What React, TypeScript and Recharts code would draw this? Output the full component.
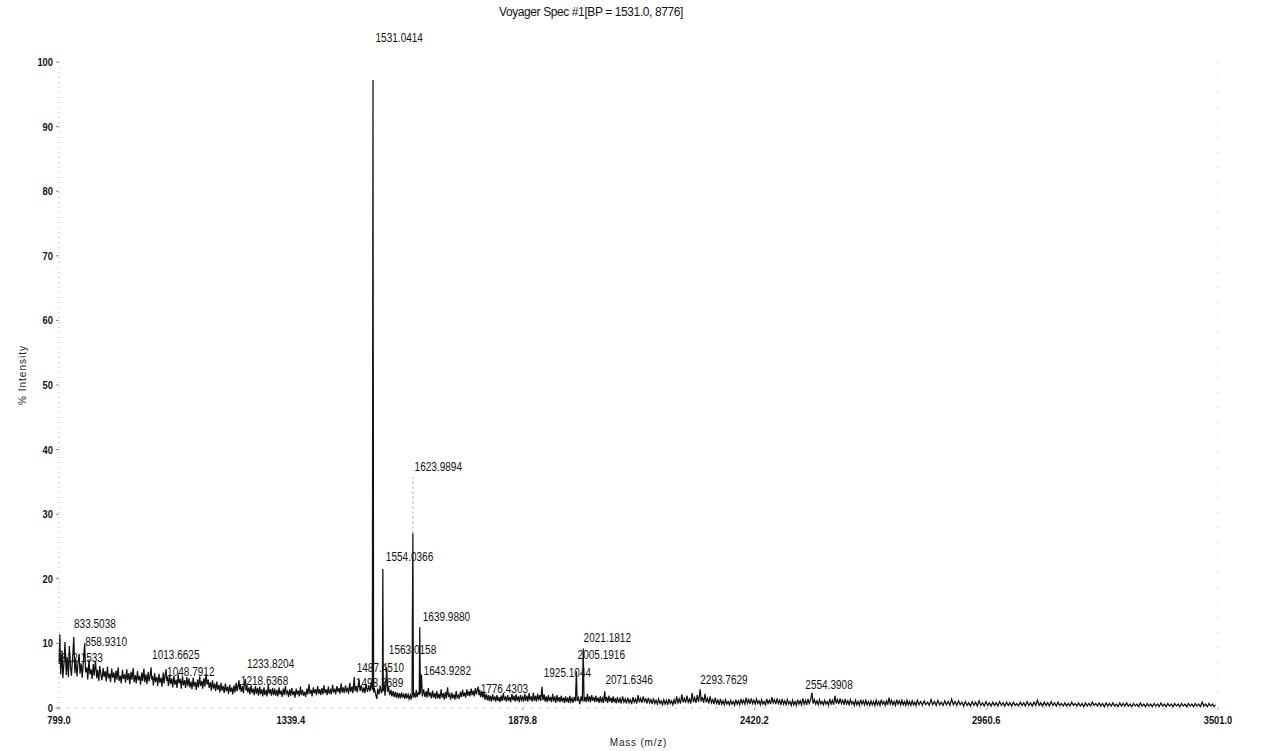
import React from 'react';
import { ComposedChart, Line, XAxis, YAxis, ReferenceDot } from 'recharts';

type Pt = [number, number];

const FONT = "'Liberation Sans', Arial, sans-serif";

const chartTitle = 'Voyager Spec #1[BP = 1531.0, 8776]';
const xAxisTitle = 'Mass (m/z)';
const yAxisTitle = '% Intensity';
const xTicks = [799.0, 1339.4, 1879.8, 2420.2, 2960.6, 3501.0];
const yTicks = [0, 10, 20, 30, 40, 50, 60, 70, 80, 90, 100];
const rightTicks = [0, 100];
const rightTickLabels = ['0', '8776.0'];

// labelled peaks: [m/z, % intensity]
const peakPoints: Pt[] = [
  [801.0, 11.4], [833.5, 11.0], [858.9, 10.0], [1013.7, 6.3], [1048.8, 6.0],
  [1218.6, 4.3], [1233.8, 4.5], [1487.5, 4.8], [1498.4, 4.4], [1531.0, 97.2],
  [1554.0, 21.5], [1563.0, 6.3], [1624.0, 27.0], [1640.0, 12.5], [1644.0, 5.2],
  [1776.4, 3.3], [1925.1, 3.3], [2005.2, 5.7], [2021.2, 9.2], [2071.6, 2.6],
  [2293.8, 2.9], [2554.4, 2.4],
];

// faint upper trace of the 1623.9894 peak
const ghostPeak: Pt[] = [[1624.0, 27.0], [1624.0, 35.7]];

const noiseA: Pt[] = [
  [799, 6.8], [803, 5.2], [806, 8.9], [808, 4.6], [811, 7.3], [813, 10.2], [816, 5.1], [818, 7.9],
  [821, 4.8], [823, 9.6], [826, 6.2], [828, 5.0], [831, 8.1], [836, 5.4], [838, 7.6], [841, 4.9],
  [843, 6.8], [846, 8.4], [848, 5.3], [851, 6.9], [853, 4.7], [856, 7.2], [861, 5.5], [864, 6.3],
  [866, 4.4], [869, 7.5], [871, 5.2], [874, 6.0], [876, 4.5], [879, 6.8], [881, 5.0], [884, 7.3],
  [887, 4.6], [889, 5.9], [892, 4.2], [894, 6.5], [897, 5.1], [899, 4.3], [902, 6.2], [904, 4.8],
  [907, 5.7], [909, 4.1], [912, 6.4], [914, 4.6], [917, 5.3], [919, 4.0], [922, 6.1], [924, 4.7],
  [927, 5.5], [929, 3.9], [932, 5.8], [934, 4.4], [937, 6.3], [939, 4.2], [942, 5.0], [944, 3.8],
  [947, 5.9], [949, 4.5], [952, 5.2], [954, 3.9], [957, 6.0], [959, 4.3], [962, 5.4], [964, 3.7],
  [967, 5.6], [969, 4.4], [972, 6.2], [974, 4.0], [977, 5.1], [979, 3.8], [982, 5.7], [984, 4.3],
  [987, 5.0], [989, 3.6], [992, 5.5], [994, 4.2], [997, 6.1], [999, 4.0],
];

const noiseB: Pt[] = [
  [1002, 5.2], [1004, 3.7], [1007, 5.6], [1009, 4.1], [1012, 5.3], [1015, 4.4], [1017, 5.0], [1019, 3.5],
  [1022, 5.4], [1024, 4.0], [1027, 4.8], [1029, 3.4], [1032, 5.3], [1034, 3.9], [1037, 4.7], [1039, 3.3],
  [1042, 5.5], [1044, 3.8], [1046, 5.0], [1050, 4.2], [1052, 4.9], [1054, 3.4], [1057, 5.1], [1059, 3.7],
  [1062, 4.6], [1064, 3.2], [1067, 5.0], [1069, 3.6], [1072, 4.4], [1074, 3.1], [1077, 5.2], [1079, 3.8],
  [1082, 4.5], [1084, 3.0], [1087, 4.9], [1089, 3.5], [1092, 4.3], [1094, 3.1], [1097, 4.8], [1099, 3.4],
  [1102, 4.6], [1104, 3.2], [1107, 4.1], [1109, 2.9], [1112, 4.7], [1114, 3.3], [1117, 4.0], [1119, 2.8],
  [1122, 4.4], [1124, 3.2], [1127, 4.9], [1129, 3.4], [1132, 4.2], [1134, 3.0], [1137, 4.6], [1139, 3.3],
  [1142, 5.3], [1144, 3.6], [1147, 4.4], [1149, 3.1], [1152, 4.0], [1154, 2.7], [1157, 4.3], [1159, 3.0],
  [1162, 3.8], [1164, 2.6], [1167, 4.1], [1169, 2.8], [1172, 3.6], [1174, 2.4], [1177, 3.9], [1179, 2.7],
  [1182, 3.4], [1184, 2.3], [1187, 3.8], [1189, 2.6], [1192, 3.3], [1194, 2.2], [1197, 3.6], [1199, 2.5],
  [1202, 3.2], [1204, 2.1], [1207, 3.5], [1209, 2.4], [1212, 3.9], [1214, 2.6], [1216, 3.3], [1220, 2.8],
  [1222, 3.7], [1224, 2.5], [1227, 3.4], [1229, 2.3], [1231, 3.6], [1235, 2.7], [1237, 3.6], [1239, 2.4],
  [1242, 3.2], [1244, 2.1], [1247, 3.5], [1249, 2.3], [1252, 3.0], [1254, 2.0], [1257, 3.4], [1259, 2.2],
  [1262, 3.1], [1264, 1.9], [1267, 3.3], [1269, 2.1], [1272, 2.9], [1274, 1.8], [1277, 3.2], [1279, 2.0],
  [1282, 2.8], [1284, 1.8], [1287, 3.6], [1289, 2.2], [1292, 2.9], [1294, 1.9], [1297, 3.1], [1299, 2.0],
];

const noiseC: Pt[] = [
  [1302, 3.0], [1304, 1.9], [1307, 2.8], [1309, 1.8], [1312, 3.2], [1314, 2.1], [1317, 2.7], [1319, 1.7],
  [1322, 3.0], [1324, 2.0], [1327, 3.4], [1329, 2.2], [1332, 2.6], [1334, 1.7], [1337, 2.9], [1339, 1.9],
  [1342, 3.1], [1344, 2.0], [1347, 2.6], [1349, 1.6], [1352, 3.0], [1354, 2.1], [1357, 2.7], [1359, 1.8],
  [1362, 3.3], [1364, 2.0], [1367, 2.8], [1369, 1.9], [1372, 2.5], [1374, 1.7], [1377, 3.0], [1379, 2.1],
  [1382, 3.7], [1384, 2.2], [1387, 2.8], [1389, 1.8], [1392, 3.2], [1394, 2.3], [1397, 2.9], [1399, 2.0],
  [1402, 3.4], [1404, 2.2], [1407, 2.9], [1409, 2.0], [1412, 3.1], [1414, 2.1], [1417, 3.5], [1419, 2.3],
  [1422, 2.9], [1424, 2.0], [1427, 3.3], [1429, 2.2], [1432, 2.8], [1434, 2.1], [1437, 3.6], [1439, 2.4],
  [1442, 3.0], [1444, 2.1], [1447, 3.4], [1449, 2.5], [1452, 3.1], [1454, 2.2], [1457, 3.8], [1459, 2.4],
  [1462, 3.2], [1464, 2.3], [1467, 3.5], [1469, 2.6], [1472, 3.0], [1474, 2.2], [1477, 3.9], [1479, 2.5],
  [1482, 3.3], [1484, 2.3], [1489, 2.6], [1492, 3.4], [1494, 2.4], [1496, 3.1], [1501, 2.6], [1504, 3.5],
  [1507, 2.4], [1510, 3.2], [1512, 2.3], [1515, 3.7], [1518, 2.5], [1521, 3.3], [1524, 2.6], [1527, 4.0],
  [1529.5, 2.8], [1532.4, 2.4], [1534, 3.1], [1537, 2.2], [1540, 1.4], [1542, 3.0], [1545, 2.1], [1548, 3.4],
  [1551, 2.3], [1553, 3.0], [1555, 2.6], [1557, 3.8], [1559, 1.9], [1561, 3.5], [1565, 2.5], [1567, 3.3],
  [1570, 2.0], [1573, 2.8], [1575, 1.8], [1578, 2.6], [1580, 1.7], [1583, 2.5], [1585, 1.6], [1588, 2.4],
  [1590, 1.5], [1593, 2.3], [1595, 1.5], [1598, 2.4], [1600, 1.6], [1603, 2.2], [1605, 1.4], [1608, 2.3],
  [1610, 1.5], [1613, 2.1], [1615, 1.4], [1618, 2.0], [1620, 1.3], [1622, 2.0], [1625.2, 1.6], [1627, 2.4],
  [1630, 1.6], [1632, 2.8], [1634, 1.7], [1637, 2.5], [1638.8, 2.0], [1641.5, 2.2], [1646, 1.8], [1649, 2.9],
];

const noiseD: Pt[] = [
  [1652, 1.7], [1655, 2.6], [1657, 1.6], [1660, 3.1], [1662, 1.8], [1665, 2.4], [1667, 1.5], [1670, 2.7],
  [1672, 1.6], [1675, 2.3], [1677, 1.4], [1680, 2.6], [1682, 1.5], [1685, 2.2], [1687, 1.4], [1690, 2.9],
  [1692, 1.6], [1695, 2.3], [1697, 1.3], [1700, 2.5], [1702, 1.5], [1705, 3.2], [1707, 1.7], [1710, 2.2],
  [1712, 1.3], [1715, 2.4], [1717, 1.5], [1720, 2.1], [1722, 1.3], [1725, 2.6], [1727, 1.6], [1730, 2.0],
  [1732, 1.4], [1735, 2.5], [1737, 1.7], [1740, 2.8], [1742, 1.8], [1745, 2.4], [1747, 1.6], [1750, 2.9],
  [1752, 1.9], [1755, 2.6], [1757, 1.8], [1760, 3.0], [1762, 2.0], [1765, 2.7], [1767, 1.8], [1770, 3.1],
  [1772, 2.1], [1774, 2.7], [1778, 2.0], [1780, 2.8], [1782, 1.7], [1785, 2.6], [1787, 1.6], [1790, 2.4],
  [1792, 1.3], [1795, 2.2], [1797, 1.2], [1800, 2.0], [1802, 1.1], [1805, 1.9], [1807, 1.0], [1810, 2.1],
  [1812, 1.2], [1815, 1.8], [1817, 1.0], [1820, 2.0], [1822, 1.1], [1825, 1.7], [1827, 0.9], [1830, 1.9],
  [1832, 1.1], [1835, 2.3], [1837, 1.2], [1840, 1.8], [1842, 1.0], [1845, 2.0], [1847, 1.1], [1850, 1.7],
  [1852, 0.9], [1855, 2.2], [1857, 1.2], [1860, 1.9], [1862, 1.0], [1865, 2.1], [1867, 1.1], [1870, 1.8],
  [1872, 0.9], [1875, 2.0], [1877, 1.2], [1880, 1.7], [1882, 1.0], [1885, 2.2], [1887, 1.1], [1890, 1.9],
  [1892, 1.0], [1895, 2.3], [1897, 1.2], [1900, 1.8], [1902, 1.0], [1905, 2.4], [1907, 1.1], [1910, 1.9],
  [1912, 1.0], [1915, 2.2], [1917, 1.2], [1920, 2.0], [1922, 1.1], [1927, 1.2], [1930, 2.1], [1932, 1.0],
  [1935, 1.8], [1937, 0.9], [1940, 2.0], [1942, 1.1], [1945, 1.7], [1947, 0.9], [1950, 2.2], [1952, 1.0],
  [1955, 1.8], [1957, 0.8], [1960, 2.0], [1962, 1.0], [1965, 1.7], [1967, 0.9], [1970, 1.9], [1972, 1.0],
  [1975, 1.6], [1977, 0.8], [1980, 1.8], [1982, 0.9], [1985, 1.6], [1987, 0.8], [1990, 1.9], [1992, 1.0],
  [1995, 1.5], [1997, 0.8], [2000, 1.7], [2003, 1.0], [2007, 1.1], [2010, 1.6], [2013, 0.6], [2016, 1.8],
  [2019, 1.0], [2023, 1.0], [2026, 1.7], [2028, 0.9], [2031, 2.2], [2033, 1.0], [2036, 1.8], [2038, 0.9],
  [2041, 2.0], [2043, 1.1], [2046, 1.7], [2048, 0.9], [2051, 1.9], [2053, 1.0], [2056, 1.6], [2058, 0.8],
  [2061, 1.8], [2063, 0.9], [2066, 1.5], [2068, 0.8], [2073, 1.0], [2076, 1.7], [2078, 0.8], [2081, 1.9],
  [2083, 1.0], [2086, 1.6], [2088, 0.8], [2091, 1.8], [2093, 0.9], [2096, 1.5], [2098, 0.7],
];

const noiseE: Pt[] = [
  [2101, 1.7], [2104, 0.8], [2107, 1.5], [2110, 0.7], [2113, 1.8], [2116, 0.9], [2119, 1.4], [2122, 0.7],
  [2125, 1.6], [2128, 0.8], [2131, 1.3], [2134, 0.6], [2137, 1.7], [2140, 0.9], [2143, 1.4], [2146, 0.7],
  [2149, 2.0], [2152, 0.9], [2155, 1.5], [2158, 0.8], [2161, 1.8], [2164, 1.0], [2167, 1.4], [2170, 0.7],
  [2173, 1.6], [2176, 0.8], [2179, 1.3], [2182, 0.6], [2185, 1.5], [2188, 0.7], [2191, 1.2], [2194, 0.6],
  [2197, 1.4], [2200, 0.7], [2203, 1.1], [2206, 0.5], [2209, 1.3], [2212, 0.6], [2215, 1.2], [2218, 0.5],
  [2221, 1.4], [2224, 0.7], [2227, 1.1], [2230, 0.5], [2233, 1.3], [2236, 0.6], [2239, 1.8], [2242, 0.8],
  [2245, 1.4], [2248, 0.7], [2251, 2.1], [2254, 0.9], [2257, 1.5], [2260, 0.8], [2263, 1.9], [2266, 0.9],
  [2269, 1.4], [2272, 0.7], [2275, 2.3], [2278, 0.9], [2281, 1.6], [2284, 0.8], [2287, 2.0], [2290, 0.9],
  [2296, 1.0], [2299, 1.7], [2302, 0.8], [2305, 2.2], [2308, 0.9], [2311, 1.5], [2314, 0.7], [2317, 1.8],
  [2320, 0.8], [2323, 1.3], [2326, 0.6], [2329, 1.6], [2332, 0.7], [2335, 1.2], [2338, 0.5], [2341, 1.4],
  [2344, 0.6], [2347, 1.1], [2350, 0.5], [2353, 1.3], [2356, 0.6], [2359, 1.0], [2362, 0.5], [2365, 1.2],
  [2368, 0.6], [2371, 1.0], [2374, 0.4], [2377, 1.3], [2380, 0.6], [2383, 1.1], [2386, 0.5], [2389, 1.4],
  [2392, 0.7], [2395, 1.2], [2398, 0.6], [2401, 1.6], [2404, 0.7], [2407, 1.3], [2410, 0.6], [2413, 1.5],
  [2416, 0.7], [2419, 1.2], [2422, 0.6], [2425, 1.4], [2428, 0.7], [2431, 1.1], [2434, 0.5], [2437, 1.3],
  [2440, 0.6], [2443, 1.0], [2446, 0.5], [2449, 1.4], [2452, 0.7], [2455, 1.2], [2458, 0.6], [2461, 1.7],
  [2464, 0.8], [2467, 1.3], [2470, 0.6], [2473, 1.5], [2476, 0.7], [2479, 1.2], [2482, 0.5], [2485, 1.4],
  [2488, 0.6], [2491, 1.1], [2494, 0.5], [2497, 1.3], [2500, 0.6], [2503, 1.0], [2506, 0.4], [2509, 1.2],
  [2512, 0.5], [2515, 1.0], [2518, 0.4], [2521, 1.3], [2524, 0.6], [2527, 1.1], [2530, 0.5], [2533, 1.5],
  [2536, 0.6], [2539, 1.2], [2542, 0.5], [2545, 1.4], [2548, 0.7], [2551, 1.2], [2557, 0.7], [2560, 1.3],
  [2563, 0.6], [2566, 1.1], [2569, 0.5], [2572, 1.3], [2575, 0.6], [2578, 1.0], [2581, 0.5], [2584, 1.2],
  [2587, 0.6], [2590, 1.0], [2593, 0.4], [2596, 1.4], [2599, 0.6], [2602, 1.2], [2605, 0.5], [2608, 1.9],
  [2611, 0.7], [2614, 1.3], [2617, 0.6], [2620, 1.5], [2623, 0.7], [2626, 1.2], [2629, 0.5], [2632, 1.4],
  [2635, 0.6], [2638, 1.1], [2641, 0.5], [2644, 1.3], [2647, 0.6], [2650, 1.0], [2653, 0.4], [2656, 1.2],
  [2659, 0.5], [2662, 1.0], [2665, 0.4], [2668, 1.3], [2671, 0.6], [2674, 1.1], [2677, 0.5], [2680, 1.2],
  [2683, 0.5], [2686, 1.0], [2689, 0.4], [2692, 1.1], [2695, 0.5], [2698, 1.0], [2701, 0.4], [2704, 1.2],
  [2707, 0.5], [2710, 1.0], [2713, 0.4], [2716, 1.3], [2719, 0.6], [2722, 1.0], [2725, 0.4], [2728, 1.1],
  [2731, 0.5], [2734, 1.6], [2737, 0.6], [2740, 1.2], [2743, 0.5], [2746, 1.0], [2749, 0.4], [2752, 1.3],
  [2755, 0.6], [2758, 1.1], [2761, 0.5], [2764, 1.2], [2767, 0.5], [2770, 1.0], [2773, 0.4], [2776, 1.2],
  [2779, 0.5], [2782, 1.0], [2785, 0.4], [2788, 1.1], [2791, 0.5], [2794, 0.9], [2797, 0.4], [2800, 1.2],
];

const noiseF: Pt[] = [
  [2804, 0.5], [2808, 1.0], [2812, 0.4], [2816, 1.1], [2820, 0.5], [2824, 0.9], [2828, 0.4], [2832, 1.3],
  [2836, 0.5], [2840, 1.0], [2844, 0.4], [2848, 1.2], [2852, 0.5], [2856, 0.9], [2860, 0.4], [2864, 1.1],
  [2868, 0.5], [2872, 1.0], [2876, 0.4], [2880, 1.4], [2884, 0.5], [2888, 1.0], [2892, 0.4], [2896, 1.1],
  [2900, 0.5], [2904, 0.9], [2908, 0.3], [2912, 1.0], [2916, 0.4], [2920, 0.8], [2924, 0.3], [2928, 1.0],
  [2932, 0.4], [2936, 0.9], [2940, 0.3], [2944, 1.1], [2948, 0.4], [2952, 0.8], [2956, 0.3], [2960, 1.0],
  [2964, 0.4], [2968, 0.8], [2972, 0.3], [2976, 0.9], [2980, 0.4], [2984, 0.8], [2988, 0.3], [2992, 1.0],
  [2996, 0.4], [3000, 0.8], [3004, 0.3], [3008, 0.9], [3012, 0.4], [3016, 0.8], [3020, 0.3], [3024, 0.9],
  [3028, 0.4], [3032, 0.7], [3036, 0.3], [3040, 0.9], [3044, 0.4], [3048, 0.8], [3052, 0.3], [3056, 1.0],
  [3060, 0.4], [3064, 0.8], [3068, 0.3], [3072, 0.9], [3076, 0.4], [3080, 1.2], [3084, 0.4], [3088, 0.8],
  [3092, 0.3], [3096, 0.9], [3100, 0.4], [3104, 0.8], [3108, 0.3], [3112, 1.0], [3116, 0.4], [3120, 0.8],
  [3124, 0.3], [3128, 0.9], [3132, 0.4], [3136, 0.7], [3140, 0.3], [3144, 0.8], [3148, 0.3], [3152, 0.7],
  [3156, 0.3], [3160, 0.9], [3164, 0.4], [3168, 0.7], [3172, 0.3], [3176, 0.8], [3180, 0.3], [3184, 0.7],
  [3188, 0.2], [3192, 0.8], [3196, 0.3], [3200, 0.7], [3204, 0.3], [3208, 0.9], [3212, 0.4], [3216, 0.7],
  [3220, 0.3], [3224, 0.8], [3228, 0.3], [3232, 0.7], [3236, 0.2], [3240, 0.8], [3244, 0.3], [3248, 0.7],
  [3252, 0.3], [3256, 0.8], [3260, 0.3], [3264, 0.6], [3268, 0.2], [3272, 0.8], [3276, 0.3], [3280, 0.7],
  [3284, 0.3], [3288, 0.8], [3292, 0.3], [3296, 0.6], [3300, 0.2], [3304, 0.7], [3308, 0.3], [3312, 0.6],
  [3316, 0.2], [3320, 0.8], [3324, 0.3], [3328, 0.6], [3332, 0.2], [3336, 0.7], [3340, 0.3], [3344, 0.6],
  [3348, 0.2], [3352, 0.7], [3356, 0.3], [3360, 0.6], [3364, 0.2], [3368, 0.8], [3372, 0.3], [3376, 0.6],
  [3380, 0.2], [3384, 0.7], [3388, 0.3], [3392, 0.6], [3396, 0.2], [3400, 0.7], [3404, 0.3], [3408, 0.6],
  [3412, 0.2], [3416, 0.7], [3420, 0.3], [3424, 0.6], [3428, 0.2], [3432, 0.7], [3436, 0.3], [3440, 0.6],
  [3444, 0.2], [3448, 0.7], [3452, 0.3], [3456, 0.6], [3460, 0.2], [3464, 0.9], [3468, 0.3], [3472, 0.6],
  [3476, 0.2], [3480, 0.7], [3484, 0.3], [3488, 0.6], [3492, 0.2], [3495, 0.5],
];

// peak annotation texts and where they sit (m/z of text start, % intensity of text centre)
const labelTexts = [
  '1531.0414', '1623.9894', '1554.0366', '1639.9880', '1563.0158', '1487.4510', '1498.3689',
  '1643.9282', '1776.4303', '1925.1044', '2021.1812', '2005.1916', '2071.6346', '2293.7629',
  '2554.3908', '833.5038', '858.9310', '812.1533', '1013.6625', '1048.7912', '1233.8204', '1218.6368',
];
const labelMz = [
  1537, 1628, 1561, 1647, 1568, 1493, 1491,
  1649, 1782, 1929, 2022, 2008, 2073, 2294,
  2539, 834, 860, 804, 1016, 1051, 1237, 1223,
];
const labelLevel = [
  103.7, 37.3, 23.4, 14.1, 9.0, 6.3, 3.9,
  5.7, 2.9, 5.4, 10.8, 8.2, 4.3, 4.3,
  3.6, 13.0, 10.2, 7.7, 8.2, 5.6, 6.8, 4.2,
];

const spectrum = [...noiseA, ...noiseB, ...noiseC, ...noiseD, ...noiseE, ...noiseF, ...peakPoints]
  .map(([mz, v]) => ({ mz, v }))
  .sort((a, b) => a.mz - b.mz);
const ghostData = ghostPeak.map(([mz, v]) => ({ mz, v }));

// width of a condensed (narrow) rendering of a numeric string
const narrowWidth = (s: string, digit: number, dot: number) =>
  s.split('').reduce((w, c) => w + (c === '.' ? dot : digit), 0);

const PeakLabel = (props: any) => {
  const { cx, cy, text } = props;
  return (
    <text x={cx} y={cy} dy="0.35em" textAnchor="start" fontSize={12} fontFamily={FONT} fill="#111"
      textLength={narrowWidth(text, 5.6, 2.6)} lengthAdjust="spacingAndGlyphs">
      {text}
    </text>
  );
};

const makeTick = (anchor: 'start' | 'middle' | 'end', dy: string, fmt: (v: number) => string) =>
  (props: any) => {
    const { x, y, payload } = props;
    const s = fmt(payload.value);
    return (
      <text x={x} y={y} dy={dy} textAnchor={anchor} fontSize={11} fontWeight="bold" fontFamily={FONT}
        fill="#111" textLength={narrowWidth(s, 5.2, 2.6)} lengthAdjust="spacingAndGlyphs">
        {s}
      </text>
    );
  };

const XTick = makeTick('middle', '0.71em', (v) => v.toFixed(1));
const YTick = makeTick('end', '0.355em', (v) => String(v));
const RTick = makeTick('start', '0.355em', (v) => rightTickLabels[rightTicks.indexOf(v)]);

export default function App() {
  return (
    <div style={{ position: 'absolute', left: 0, top: 0, width: 1261, height: 751, background: '#fff' }}>
      <div
        style={{
          position: 'absolute', left: 0, top: 5, width: 1182, textAlign: 'center',
          fontFamily: FONT, fontSize: 12, color: '#111', letterSpacing: -0.4,
        }}
      >
        {chartTitle}
      </div>
      <ComposedChart width={1261} height={751} data={spectrum} margin={{ top: 62, right: 0, bottom: 0, left: 0 }}>
        <XAxis
          dataKey="mz"
          type="number"
          domain={[799, 3501]}
          ticks={xTicks}
          interval={0}
          height={43}
          tickSize={2}
          tickMargin={6}
          axisLine={{ stroke: '#bbb', strokeDasharray: '2 6' }}
          tickLine={{ stroke: '#999' }}
          tick={XTick}
          label={{ value: xAxisTitle, position: 'insideBottom', offset: 5, fontSize: 10, fill: '#222', fontFamily: FONT, letterSpacing: 0.8 }}
        />
        <YAxis
          yAxisId="left"
          type="number"
          domain={[0, 100]}
          ticks={yTicks}
          interval={0}
          width={59}
          tickSize={3}
          tickMargin={3}
          axisLine={{ stroke: '#aaa', strokeDasharray: '1 4' }}
          tickLine={{ stroke: '#888' }}
          tick={YTick}
          label={{
            content: (p: any) => {
              const vb = p.viewBox;
              const x = vb.x + 22;
              const y = vb.y + vb.height / 2 - 10;
              return (
                <text x={x} y={y} transform={`rotate(-90 ${x} ${y})`} textAnchor="middle" dy="0.35em"
                  fontSize={10} fontFamily={FONT} fill="#222" letterSpacing={1}>
                  {yAxisTitle}
                </text>
              );
            },
          }}
        />
        <YAxis
          yAxisId="right"
          orientation="right"
          type="number"
          domain={[0, 100]}
          ticks={rightTicks}
          interval={0}
          width={43}
          tickLine={false}
          tickMargin={7}
          axisLine={{ stroke: '#bbb', strokeDasharray: '1 14' }}
          tick={RTick}
        />
        <Line
          yAxisId="left"
          data={ghostData}
          dataKey="v"
          stroke="#999"
          strokeWidth={1}
          strokeDasharray="2 3"
          dot={false}
          isAnimationActive={false}
        />
        <Line
          yAxisId="left"
          dataKey="v"
          type="linear"
          stroke="#111"
          strokeWidth={1.25}
          dot={false}
          activeDot={false}
          isAnimationActive={false}
        />
        {labelTexts.map((t, i) => (
          <ReferenceDot
            key={t}
            yAxisId="left"
            x={labelMz[i]}
            y={labelLevel[i]}
            r={0}
            ifOverflow="visible"
            shape={(p: any) => <PeakLabel {...p} text={t} />}
          />
        ))}
      </ComposedChart>
    </div>
  );
}
